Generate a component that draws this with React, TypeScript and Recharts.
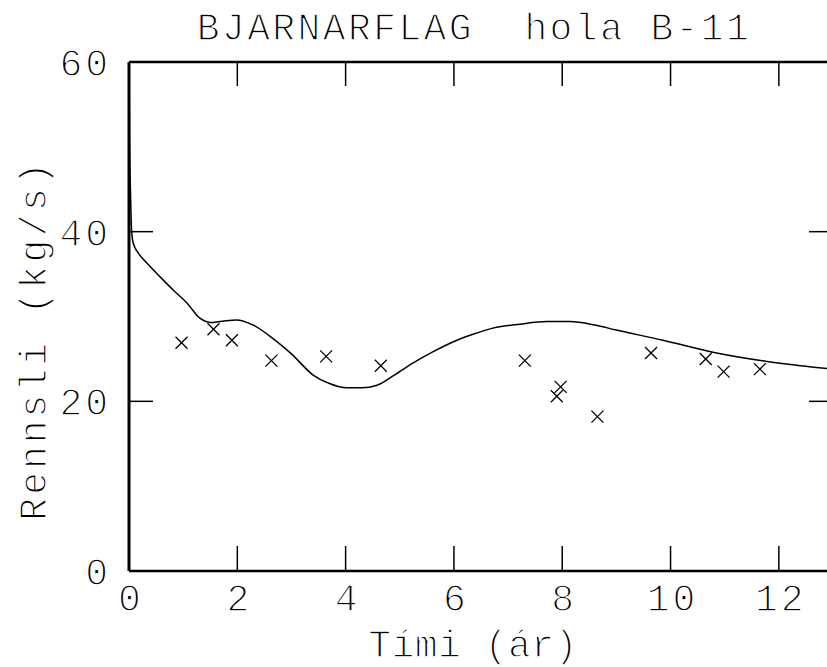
import { ComposedChart, Line, Scatter, XAxis, YAxis, Label } from 'recharts';

// simulated flow curve
const simTime = [0, 0.01, 0.03, 0.05, 0.08, 0.17, 0.33, 0.57, 0.82, 1.07, 1.31, 1.5, 1.68, 1.99, 2.29, 2.66, 3.0, 3.4, 3.7, 4.02, 4.3, 4.58, 4.9, 5.24, 5.6, 5.98, 6.35, 6.7, 7.22, 7.71, 8.14, 8.6, 9.0, 9.86, 10.85, 11.78, 12.4, 13.0];
const simFlow = [60, 51, 44, 39.9, 38.6, 37.5, 36.3, 34.7, 33.1, 31.6, 29.8, 29.3, 29.4, 29.6, 29.0, 27.4, 25.6, 23.1, 22.1, 21.6, 21.6, 21.9, 23.1, 24.5, 25.8, 27.0, 27.9, 28.6, 29.1, 29.4, 29.4, 29.0, 28.4, 27.2, 25.7, 24.7, 24.2, 23.8];

// measured flow
const obsTime = [0.97, 1.56, 1.9, 2.63, 3.64, 4.65, 7.31, 7.97, 7.9, 8.65, 9.64, 10.65, 10.98, 11.65];
const obsFlow = [26.9, 28.5, 27.2, 24.8, 25.3, 24.2, 24.8, 21.7, 20.6, 18.2, 25.7, 25.0, 23.5, 23.8];

const xTicks = [0, 2, 4, 6, 8, 10, 12];
const yTicks = [0, 20, 40, 60];
const Y_MAX = 60;

const simData = simTime.map((t, i) => ({ t, q: simFlow[i] }));
const obsData = obsTime.map((t, i) => ({ t, q: obsFlow[i] }));
// anchors for the inward ticks hanging from the top frame
const topTickData = xTicks.slice(1).map((t) => ({ t, q: Y_MAX }));

const FONT = '"Liberation Mono", "DejaVu Sans Mono", monospace';
// white stroke drawn over the fill thins the glyphs toward a pen-plotter look
const txt: any = {
  fontFamily: FONT,
  fontSize: 38,
  fill: '#000',
  letterSpacing: 3,
  stroke: '#fff',
  strokeWidth: 1.4,
  paintOrder: 'fill',
};

const BottomTick = (p: any) => (
  <g>
    <line x1={p.x} x2={p.x} y1={p.y} y2={p.y - 25} stroke="#000" strokeWidth={1.5} />
    <text x={p.x + 2} y={p.y + 40} textAnchor="middle" style={txt}>{p.payload.value}</text>
  </g>
);

const LeftTick = (p: any) => (
  <g>
    <line x1={p.x} x2={p.x + 24} y1={p.y} y2={p.y} stroke="#000" strokeWidth={1.5} />
    <text x={p.x - 18} y={p.y + 14} textAnchor="end" style={txt}>{p.payload.value}</text>
  </g>
);

const RightTick = (p: any) => (
  <line x1={p.x} x2={p.x - 24} y1={p.y} y2={p.y} stroke="#000" strokeWidth={1.5} />
);

const TopTickMark = (p: any) => (
  <line x1={p.cx} x2={p.cx} y1={p.cy} y2={p.cy + 24} stroke="#000" strokeWidth={1.5} />
);

const Cross = (p: any) => {
  const s = 6;
  return (
    <g stroke="#000" strokeWidth={1.3}>
      <line x1={p.cx - s} y1={p.cy - s} x2={p.cx + s} y2={p.cy + s} />
      <line x1={p.cx - s} y1={p.cy + s} x2={p.cx + s} y2={p.cy - s} />
    </g>
  );
};

export default function App() {
  return (
    <div style={{ position: 'fixed', left: 0, top: 0, width: 827, height: 667, overflow: 'hidden', background: '#fff' }}>
      <ComposedChart width={860} height={667} margin={{ top: 61, right: 26, left: 0, bottom: 0 }}>
        <XAxis
          xAxisId="b"
          dataKey="t"
          type="number"
          domain={[0, 13]}
          ticks={xTicks}
          height={96}
          tickSize={0}
          tickMargin={0}
          tickLine={false}
          tick={<BottomTick />}
          axisLine={{ stroke: '#000', strokeWidth: 2.5 }}
        >
          <Label
            content={() => (
              <text x={473} y={657} textAnchor="middle" style={{ ...txt, letterSpacing: 0.5 }}>Tími (ár)</text>
            )}
          />
        </XAxis>
        <XAxis
          xAxisId="t"
          orientation="top"
          dataKey="t"
          type="number"
          domain={[0, 13]}
          ticks={xTicks}
          height={1}
          tick={false}
          tickLine={false}
          axisLine={{ stroke: '#000', strokeWidth: 2.5 }}
        >
          <Label
            content={() => (
              <text x={474} y={40} textAnchor="middle" style={{ ...txt, letterSpacing: 2.4, whiteSpace: 'pre' }}>BJARNARFLAG  hola B-11</text>
            )}
          />
        </XAxis>
        <YAxis
          yAxisId="l"
          type="number"
          domain={[0, Y_MAX]}
          ticks={yTicks}
          width={129}
          tickSize={0}
          tickMargin={0}
          tickLine={false}
          tick={<LeftTick />}
          axisLine={{ stroke: '#000', strokeWidth: 3 }}
        >
          <Label
            content={() => (
              <text x={46} y={340} textAnchor="middle" transform="rotate(-90 46 340)" style={txt}>Rennsli (kg/s)</text>
            )}
          />
        </YAxis>
        <YAxis
          yAxisId="r"
          orientation="right"
          type="number"
          domain={[0, Y_MAX]}
          ticks={yTicks}
          width={1}
          tickSize={0}
          tickMargin={0}
          tickLine={false}
          tick={<RightTick />}
          axisLine={{ stroke: '#000', strokeWidth: 2.5 }}
        />
        <Scatter
          xAxisId="b"
          yAxisId="l"
          data={topTickData}
          dataKey="q"
          shape={<TopTickMark />}
          isAnimationActive={false}
        />
        <Line
          xAxisId="b"
          yAxisId="l"
          data={simData}
          dataKey="q"
          type="monotone"
          stroke="#000"
          strokeWidth={1.5}
          dot={false}
          isAnimationActive={false}
        />
        <Scatter
          xAxisId="t"
          yAxisId="r"
          data={obsData}
          dataKey="q"
          shape={<Cross />}
          isAnimationActive={false}
        />
      </ComposedChart>
    </div>
  );
}
